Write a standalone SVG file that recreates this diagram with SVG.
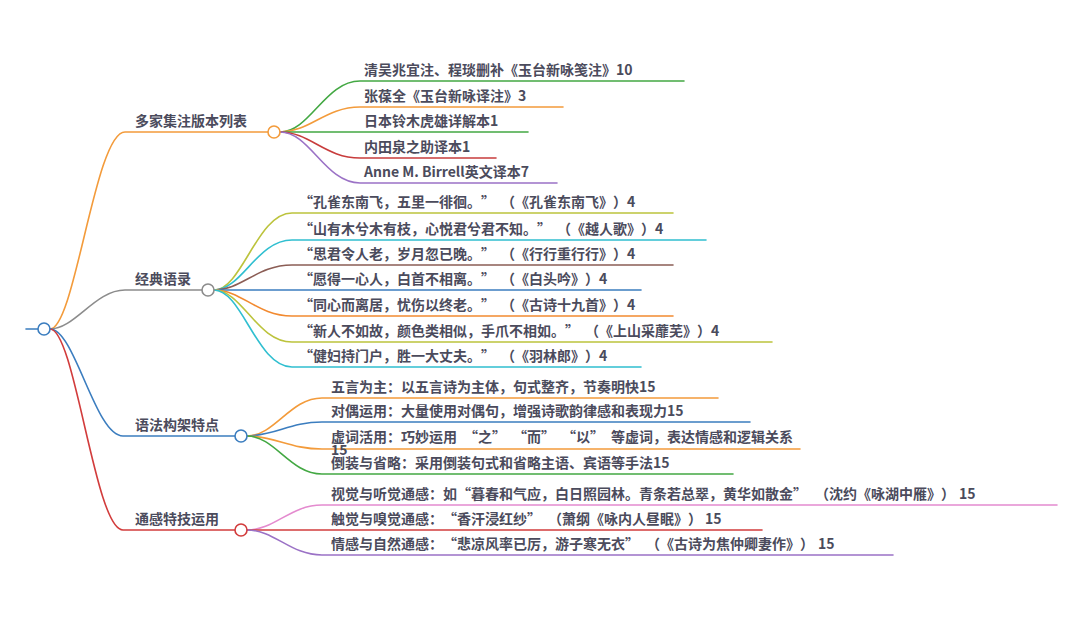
<svg xmlns="http://www.w3.org/2000/svg" width="1080" height="617" viewBox="0 0 1080 617">
<style>
.t{font-family:"Noto Sans CJK SC","Noto Sans",sans-serif;font-size:14px;font-weight:700;fill:#4b4b5c;text-spacing-trim:space-all}
.c{fill:none;stroke-width:1.6;stroke-linecap:round}
.n{fill:#fff;stroke-width:1.6}
</style>
<rect width="1080" height="617" fill="#fff"/>
<g id="connectors">
<path class="c" d="M26,329 H38" stroke="#3b7dbf"/>
<path class="c" d="M50,329 C75,329 95,132 125,132 H268" stroke="#f39b3b"/>
<path class="c" d="M50,329 C75,329 95,290 125,290 H202" stroke="#8c8c8c"/>
<path class="c" d="M50,329 C75,329 95,436 123,436 H235" stroke="#3b7dbf"/>
<path class="c" d="M50,329 C75,329 95,530 123,530 H235" stroke="#d23c3c"/>
<path class="c" d="M280,132 C310,132 325,81 360,81 H684" stroke="#43a843"/>
<path class="c" d="M280,132 C310,132 325,107 360,107 H563" stroke="#f39b3b"/>
<path class="c" d="M280,132 H528" stroke="#43a843"/>
<path class="c" d="M280,132 C310,132 325,158 360,158 H496" stroke="#c83c3c"/>
<path class="c" d="M280,132 C310,132 325,183 360,183 H557" stroke="#9b72c6"/>
<path class="c" d="M214,290 C242,290 257,213 292,213 H673" stroke="#bcc33c"/>
<path class="c" d="M214,290 C242,290 257,240 292,240 H706" stroke="#30bfd0"/>
<path class="c" d="M214,290 C242,290 257,265 292,265 H673" stroke="#8b5d55"/>
<path class="c" d="M214,290 H641" stroke="#3b7dbf"/>
<path class="c" d="M214,290 C242,290 257,316 292,316 H673" stroke="#f28a30"/>
<path class="c" d="M214,290 C242,290 257,342 292,342 H772" stroke="#bcc33c"/>
<path class="c" d="M214,290 C242,290 257,367 292,367 H641" stroke="#30bfd0"/>
<path class="c" d="M247,436 C275,436 290,398 322,398 H718" stroke="#f39b3b"/>
<path class="c" d="M247,436 C275,436 290,422 322,422 H750" stroke="#3b7dbf"/>
<path class="c" d="M247,436 C275,436 290,449 322,449 H800" stroke="#f39b3b"/>
<path class="c" d="M247,436 C275,436 290,474 322,474 H733" stroke="#43a843"/>
<path class="c" d="M247,530 C275,530 290,505 322,505 H1057" stroke="#e48bcf"/>
<path class="c" d="M247,530 H762" stroke="#d23c3c"/>
<path class="c" d="M247,530 C275,530 290,555 322,555 H893" stroke="#9b72c6"/>
</g>
<g id="root"><circle class="n" cx="44" cy="329" r="6" stroke="#3b7dbf"/></g>
<g id="b1">
<text class="t" x="135" y="126">多家集注版本列表</text>
<circle class="n" cx="274" cy="132" r="6" stroke="#f39b3b"/>
</g>
<g id="b1-1"><text class="t" x="364" y="75">清吴兆宜注、程琰删补《玉台新咏笺注》10</text></g>
<g id="b1-2"><text class="t" x="364" y="101">张葆全《玉台新咏译注》3</text></g>
<g id="b1-3"><text class="t" x="364" y="126">日本铃木虎雄详解本1</text></g>
<g id="b1-4"><text class="t" x="364" y="152">内田泉之助译本1</text></g>
<g id="b1-5"><text class="t" x="364" y="177">Anne M. Birrell英文译本7</text></g>
<g id="b2">
<text class="t" x="135" y="284">经典语录</text>
<circle class="n" cx="208" cy="290" r="6" stroke="#8c8c8c"/>
</g>
<g id="b2-1"><text class="t" x="299" y="207">“孔雀东南飞，五里一徘徊。”<tspan dx="6">（《孔雀东南飞》）4</tspan></text></g>
<g id="b2-2"><text class="t" x="299" y="234">“山有木兮木有枝，心悦君兮君不知。”<tspan dx="6">（《越人歌》）4</tspan></text></g>
<g id="b2-3"><text class="t" x="299" y="259">“思君令人老，岁月忽已晚。”<tspan dx="6">（《行行重行行》）4</tspan></text></g>
<g id="b2-4"><text class="t" x="299" y="284">“愿得一心人，白首不相离。”<tspan dx="6">（《白头吟》）4</tspan></text></g>
<g id="b2-5"><text class="t" x="299" y="310">“同心而离居，忧伤以终老。”<tspan dx="6">（《古诗十九首》）4</tspan></text></g>
<g id="b2-6"><text class="t" x="299" y="336">“新人不如故，颜色类相似，手爪不相如。”<tspan dx="6">（《上山采蘼芜》）4</tspan></text></g>
<g id="b2-7"><text class="t" x="299" y="361">“健妇持门户，胜一大丈夫。”<tspan dx="6">（《羽林郎》）4</tspan></text></g>
<g id="b3">
<text class="t" x="135" y="430">语法构架特点</text>
<circle class="n" cx="241" cy="436" r="6" stroke="#3b7dbf"/>
</g>
<g id="b3-1"><text class="t" x="331" y="392">五言为主：以五言诗为主体，句式整齐，节奏明快15</text></g>
<g id="b3-2"><text class="t" x="331" y="416">对偶运用：大量使用对偶句，增强诗歌韵律感和表现力15</text></g>
<g id="b3-3"><text class="t" x="331" y="442">虚词活用：巧妙运用<tspan dx="7">“之”</tspan><tspan dx="7">“而”</tspan><tspan dx="7">“以”</tspan><tspan dx="7">等虚词，表达情感和逻辑关系</tspan></text><text class="t" x="331" y="455">15</text></g>
<g id="b3-4"><text class="t" x="331" y="468">倒装与省略：采用倒装句式和省略主语、宾语等手法15</text></g>
<g id="b4">
<text class="t" x="135" y="524">通感特技运用</text>
<circle class="n" cx="241" cy="530" r="6" stroke="#d23c3c"/>
</g>
<g id="b4-1"><text class="t" x="331" y="499">视觉与听觉通感：如“暮春和气应，白日照园林。青条若总翠，黄华如散金”<tspan dx="8">（沈约《咏湖中雁》）</tspan><tspan dx="4">15</tspan></text></g>
<g id="b4-2"><text class="t" x="331" y="524">触觉与嗅觉通感：“香汗浸红纱”<tspan dx="7">（萧纲《咏内人昼眠》）</tspan><tspan dx="3">15</tspan></text></g>
<g id="b4-3"><text class="t" x="331" y="549">情感与自然通感：“悲凉风率已厉，游子寒无衣”<tspan dx="7">（《古诗为焦仲卿妻作》）</tspan><tspan dx="4">15</tspan></text></g>
</svg>
